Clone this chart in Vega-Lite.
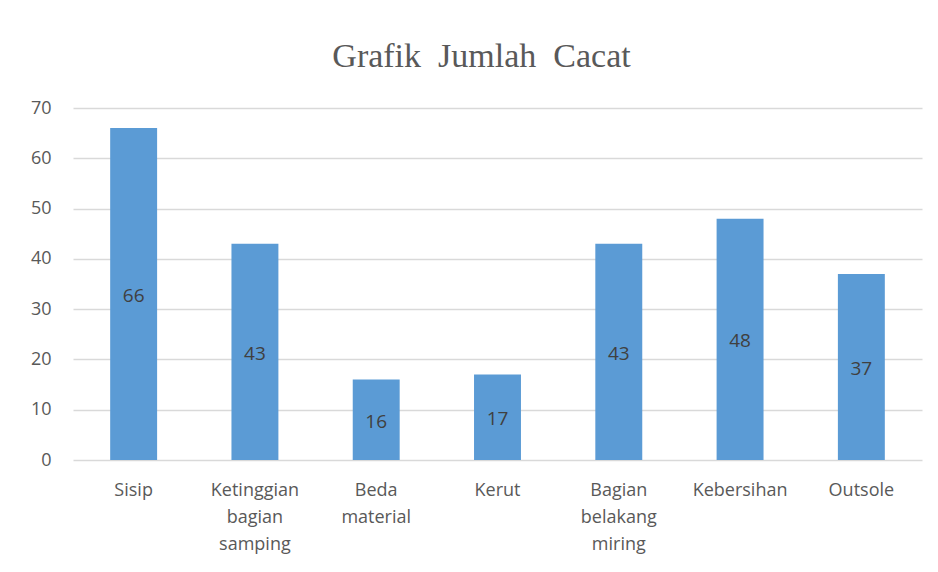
{
  "$schema": "https://vega.github.io/schema/vega-lite/v6.json",
  "autosize": "none",
  "width": 849,
  "height": 352,
  "padding": {"left": 73, "top": 108, "right": 16, "bottom": 112},
  "background": "white",
  "title": {
    "text": "Grafik\u00a0 Jumlah\u00a0 Cacat",
    "font": "Liberation Serif",
    "fontSize": 34,
    "fontWeight": "normal",
    "color": "#595959",
    "anchor": "middle",
    "baseline": "alphabetic",
    "offset": -2,
    "dx": -16
  },
  "data": {
    "values": [
      {"kategori": "Sisip", "jumlah": 66},
      {"kategori": "Ketinggian bagian samping", "jumlah": 43},
      {"kategori": "Beda material", "jumlah": 16},
      {"kategori": "Kerut", "jumlah": 17},
      {"kategori": "Bagian belakang miring", "jumlah": 43},
      {"kategori": "Kebersihan", "jumlah": 48},
      {"kategori": "Outsole", "jumlah": 37}
    ]
  },
  "encoding": {
    "x": {
      "field": "kategori",
      "type": "nominal",
      "sort": null,
      "scale": {"paddingInner": 0.613, "paddingOuter": 0.3065},
      "axis": {
        "title": null,
        "labelAngle": 0,
        "labelExpr": "split(datum.label, ' ')",
        "labelFont": "Open Sans",
        "labelFontSize": 18,
        "labelColor": "#595959",
        "labelLineHeight": 27,
        "labelPadding": 21,
        "ticks": false,
        "domain": false,
        "grid": false
      }
    }
  },
  "layer": [
    {
      "mark": {"type": "bar", "color": "#5B9BD5"},
      "encoding": {
        "y": {
          "field": "jumlah",
          "type": "quantitative",
          "scale": {"domain": [0, 70]},
          "axis": {
            "title": null,
            "values": [0, 10, 20, 30, 40, 50, 60, 70],
            "labelFont": "Open Sans",
            "labelFontSize": 18,
            "labelColor": "#595959",
            "labelPadding": 22,
            "ticks": false,
            "domain": false,
            "grid": true,
            "gridColor": "#d9d9d9",
            "gridWidth": 1.5
          }
        }
      }
    },
    {
      "mark": {"type": "text", "font": "Open Sans", "fontSize": 19, "color": "#404040", "baseline": "middle", "dy": 2},
      "encoding": {
        "y": {"field": "jumlah", "type": "quantitative", "scale": {"domain": [0, 140]}, "axis": null},
        "text": {"field": "jumlah", "type": "quantitative"}
      }
    }
  ],
  "resolve": {"scale": {"y": "independent"}},
  "config": {"view": {"stroke": null}}
}
